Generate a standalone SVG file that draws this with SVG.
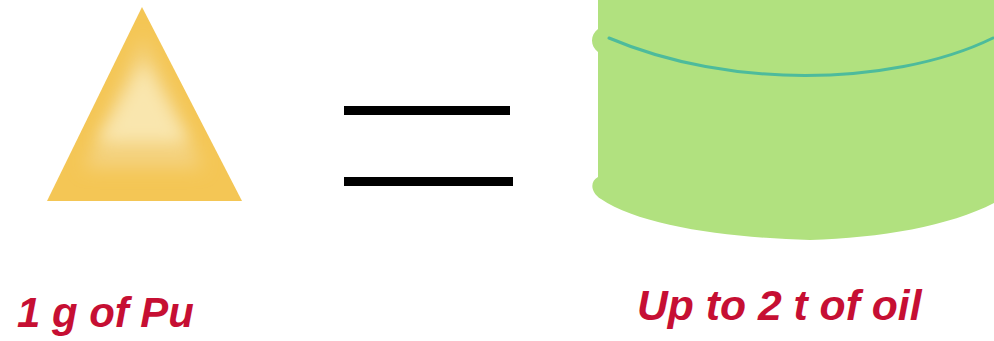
<svg xmlns="http://www.w3.org/2000/svg" width="994" height="341" viewBox="0 0 994 341">
<style>.l{font-family:"Liberation Sans",Arial,sans-serif;font-weight:bold;font-style:italic;fill:#c60f33}</style>
<defs>
<clipPath id="c"><polygon points="142,7 242,201 47,201"/></clipPath>
<filter id="b" x="-50%" y="-50%" width="200%" height="200%"><feGaussianBlur stdDeviation="9"/></filter>
<filter id="b2" x="-50%" y="-50%" width="200%" height="200%"><feGaussianBlur stdDeviation="8"/></filter>
</defs>
<g id="triangle">
<polygon points="142,7 242,201 47,201" fill="#f4c655"/>
<g clip-path="url(#c)">
<polygon points="143,36 203,168 84,168" fill="#f4d27e" filter="url(#b)"/>
<polygon points="144,62 188,142 98,142" fill="#f9e6ae" filter="url(#b2)"/>
</g>
</g>
<g id="equals"><rect x="344" y="106" width="166" height="9" fill="#000"/><rect x="344" y="177" width="169" height="9" fill="#000"/></g>
<g id="barrel">
<path d="M598,0H994V203C950,226 880,238 810,240C730,238 640,226 601,199C590,192 590,181 598,177V52C590,46 590,35 598,29Z" fill="#b1e17f"/>
<path d="M609,38C670,64 740,75.500 805,75.500C870,75.500 940,64 993,38" fill="none" stroke="#4dbb9c" stroke-width="3" stroke-linecap="round"/>
</g>
<g id="labels"><text class="l" font-size="41.900" x="17" y="327">1 g of Pu</text><text class="l" font-size="42.700" x="637" y="320">Up to 2 t of oil</text></g>
</svg>
